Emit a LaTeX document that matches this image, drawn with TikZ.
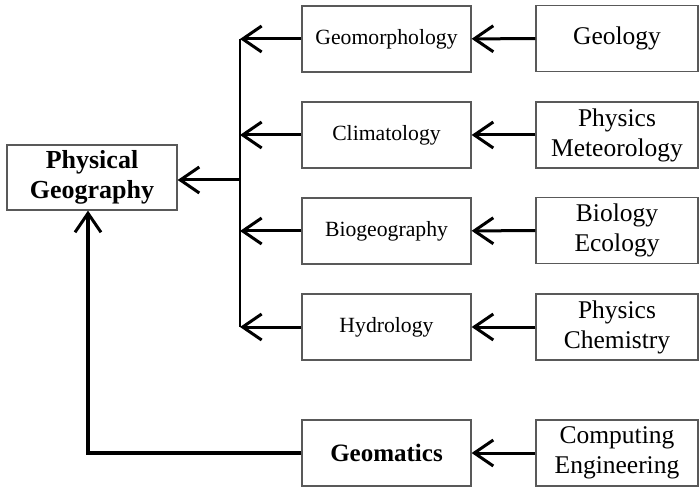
\documentclass[tikz,border=0pt]{standalone}
\usepackage{fontspec}
\setmainfont{Liberation Serif}
\usetikzlibrary{arrows.meta}
\begin{document}
\begin{tikzpicture}[x=1pt,y=-1pt,
  box/.style={draw=black!65, line width=1.3pt, minimum height=66pt, align=center, inner sep=0pt},
  midbox/.style={box, minimum width=169pt, font=\fontsize{21.7}{26}\selectfont},
  srcbox/.style={box, minimum width=162pt, font=\fontsize{25.5}{30}\selectfont},
  mainbox/.style={box, minimum width=170pt, minimum height=65pt, font=\bfseries\fontsize{26}{30}\selectfont},
  arr/.style={-{Straight Barb[length=19pt,width=26pt,line width=3pt]}, line width=3pt},
  link/.style={line width=2.5pt},
]
\useasboundingbox (0,0) rectangle (699,489);

% main subject
\node[mainbox] (pg) at (92,177.5) {Physical\\Geography};

% sub-disciplines
\node[midbox] (geom) at (386.5,39)  {Geomorphology};
\node[midbox] (clim) at (386.5,135) {Climatology};
\node[midbox] (biog) at (386.5,231) {Biogeography};
\node[midbox] (hydr) at (386.5,327) {Hydrology};
\node[midbox, font=\bfseries\fontsize{25}{30}\selectfont] (gmat) at (386.5,453) {Geomatics};

% contributing sciences
\node[srcbox] (geol) at (617,38.5)  {Geology};
\node[srcbox] (phme) at (617,135)   {Physics\\Meteorology};
\node[srcbox] (bioe) at (617,230.5) {Biology\\Ecology};
\node[srcbox] (phch) at (617,327)   {Physics\\Chemistry};
\node[srcbox] (coen) at (617,453)   {Computing\\Engineering};

% collecting bus
\coordinate (bus) at (240,0);
\coordinate (corner) at (88,452);

\draw[arr] (geol) -- (geom);
\draw[arr] (phme) -- (clim);
\draw[arr] (bioe) -- (biog);
\draw[arr] (phch) -- (hydr);
\draw[arr] (coen) -- (gmat);

\draw[arr] (geom.west) -- (geom.west -| bus);
\draw[arr] (clim.west) -- (clim.west -| bus);
\draw[arr] (biog.west) -- (biog.west -| bus);
\draw[arr] (hydr.west) -- (hydr.west -| bus);
\draw[link] (geom.west -| bus) -- (hydr.west -| bus);

\draw[arr] (pg.east |- 0,180 -| bus) -- (pg.east |- 0,180);

\draw[arr, line width=4pt] (gmat.west) -- (gmat.west -| corner) -- (pg.south -| corner);
\end{tikzpicture}
\end{document}
